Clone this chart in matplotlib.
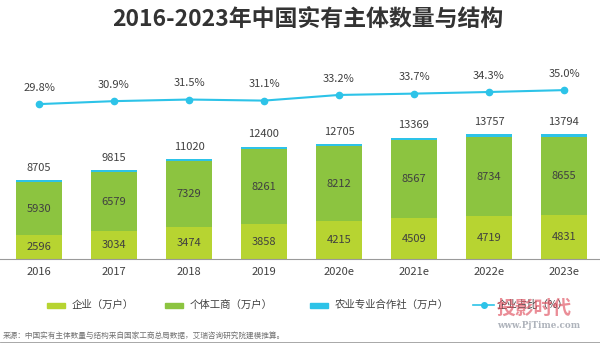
import matplotlib
matplotlib.use("Agg")
import matplotlib.pyplot as plt
from matplotlib.patches import Rectangle
from matplotlib.lines import Line2D

plt.rcParams['font.family'] = ['Noto Sans CJK SC', 'DejaVu Sans']

years = ["2016", "2017", "2018", "2019", "2020e", "2021e", "2022e", "2023e"]
enterprise = [2596, 3034, 3474, 3858, 4215, 4509, 4719, 4831]
individual = [5930, 6579, 7329, 8261, 8212, 8567, 8734, 8655]
totals = [8705, 9815, 11020, 12400, 12705, 13369, 13757, 13794]
coop = [t - e - i for t, e, i in zip(totals, enterprise, individual)]
share = [29.8, 30.9, 31.5, 31.1, 33.2, 33.7, 34.3, 35.0]

c_ent = "#b7d431"
c_ind = "#8cc440"
c_coop = "#2dc3e8"
c_txt = "#404040"

W, H = 600, 348
fig = plt.figure(figsize=(6, 3.48), dpi=100)

# main axes: baseline at y=259px, top at y=60px
base = (H - 259) / H
top = (H - 60) / H
ax = fig.add_axes([0, base, 1, top - base])
x = range(len(years))
ax.set_xlim(-0.52, 7.48)
ax.set_ylim(0, 199 / 0.00907)
ax.axis("off")

bw = 0.61
ax.bar(x, enterprise, bw, color=c_ent)
ax.bar(x, individual, bw, bottom=enterprise, color=c_ind)
ax.bar(x, coop, bw, bottom=[e + i for e, i in zip(enterprise, individual)], color=c_coop)

for i in x:
    ax.text(i, enterprise[i] / 2, str(enterprise[i]), ha="center", va="center",
            fontsize=8, color=c_txt)
    ax.text(i, enterprise[i] + individual[i] / 2, str(individual[i]), ha="center",
            va="center", fontsize=8, color=c_txt)
    ax.text(i, totals[i] + 1350, str(totals[i]), ha="center", va="center",
            fontsize=8, color=c_txt)
    ax.text(i, -1450, years[i], ha="center", va="center", fontsize=8, color=c_txt)

# share line on its own scale
ax2 = ax.twinx()
ax2.set_ylim(-27.8, 46.2)
ax2.axis("off")
ax2.plot(x, share, color=c_coop, lw=1.5, marker="o", ms=4.5)
for i in x:
    ax2.text(i, share[i] + 6.0, f"{share[i]:.1f}%", ha="center", va="center",
             fontsize=8, color=c_txt)

# baseline
fig.add_artist(Line2D([0, 1], [base, base], color="#9a9a9a", lw=0.8))

fig.text(308 / W, 1 - 19 / H, "2016-2023年中国实有主体数量与结构", ha="center",
         va="center", fontsize=16.5, fontweight="bold", color="#333333")

# legend
ly = 1 - 305 / H
items = [(47, c_ent, "企业（万户）"), (165, c_ind, "个体工商（万户）"),
         (310, c_coop, "农业专业合作社（万户）")]
for px, col, lab in items:
    fig.add_artist(Rectangle((px / W, ly - 2.5 / H), 18 / W, 5 / H, color=col))
    fig.text((px + 25) / W, ly, lab, ha="left", va="center", fontsize=7.5, color=c_txt)
fig.add_artist(Line2D([473 / W, 494 / W], [ly, ly], color=c_coop, lw=1.2))
fig.add_artist(Line2D([484 / W], [ly], color=c_coop, marker="o", ms=4))
fig.text(497 / W, ly, "企业占比（%）", ha="left", va="center", fontsize=7.5, color=c_txt)

# source
fig.text(3 / W, 1 - 337 / H, "来源：中国实有主体数量与结构来自国家工商总局数据，艾瑞咨询研究院建模推算。",
         ha="left", va="center", fontsize=5.5, color="#707070")
fig.add_artist(Line2D([0, 1], [1 - 342 / H, 1 - 342 / H], color="#9a9a9a", lw=0.6))

# watermark
fig.text(497 / W, 1 - 308 / H, "投影时代", ha="left", va="center", fontsize=13.5,
         fontweight="bold", color="#e0505f", alpha=0.65)
fig.text(497 / W, 1 - 325 / H, "www.PjTime.com", ha="left", va="center", fontsize=6.3,
         fontweight="bold", color="#9aa0aa", alpha=0.8, family="DejaVu Serif")

fig.savefig("out.png", dpi=100)
